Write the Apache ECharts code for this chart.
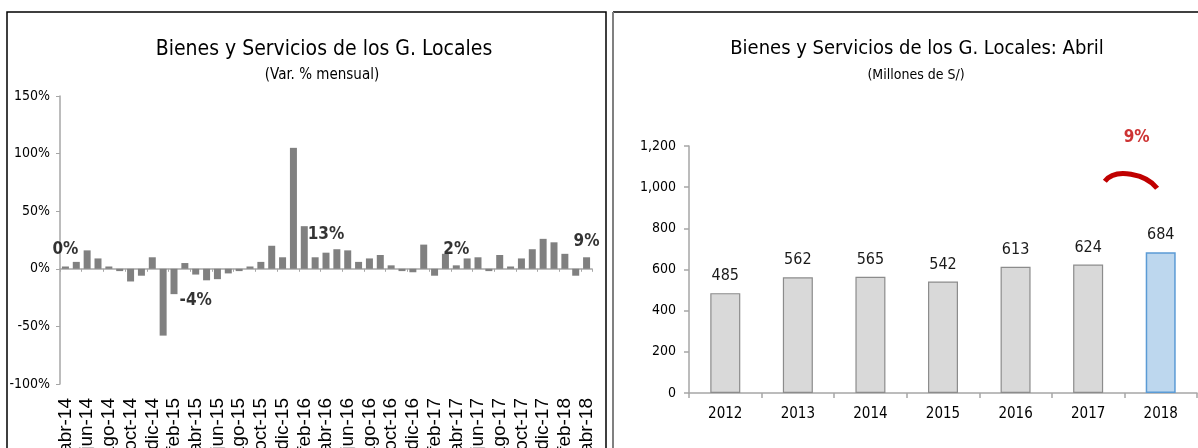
<!DOCTYPE html>
<html>
<head>
<meta charset="utf-8">
<script src="https://cdn.jsdelivr.net/npm/echarts@6/dist/echarts.min.js"></script>
<style>html,body{margin:0;padding:0;background:#fff;}#c{width:1198px;height:448px;}</style>
</head>
<body>
<div id="c"></div>
<script>
// ---- data ----
const months = ['abr-14','may-14','jun-14','jul-14','ago-14','sep-14','oct-14','nov-14','dic-14',
  'ene-15','feb-15','mar-15','abr-15','may-15','jun-15','jul-15','ago-15','sep-15','oct-15','nov-15','dic-15',
  'ene-16','feb-16','mar-16','abr-16','may-16','jun-16','jul-16','ago-16','sep-16','oct-16','nov-16','dic-16',
  'ene-17','feb-17','mar-17','abr-17','may-17','jun-17','jul-17','ago-17','sep-17','oct-17','nov-17','dic-17',
  'ene-18','feb-18','mar-18','abr-18'];
const monthlyVar = [2,6,16,9,2,-2,-11,-6,10,
  -58,-22,5,-5,-10,-9,-4,-2,2,6,20,10,
  105,37,10,14,17,16,6,9,12,3,-2,-3,
  21,-6,13,3,9,10,-2,12,2,9,17,26,
  23,13,-6,10];
const aprilMonths = ['abr-14','abr-15','abr-16','abr-17','abr-18'];
const aprilGrowthLabels = ['0%','-4%','13%','2%','9%'];
const years = ['2012','2013','2014','2015','2016','2017','2018'];
const aprilValues = [485,562,565,542,613,624,684];
const growthLabel = '9%';
const leftTitle = 'Bienes y Servicios de los G. Locales';
const leftSub = '(Var. % mensual)';
const rightTitle = 'Bienes y Servicios de los G. Locales: Abril';
const rightSub = '(Millones de S/)';

// ---- layout / style ----
const NARROW = "'DejaVu Sans Condensed','Liberation Sans',sans-serif";
const REG = "'Liberation Sans',Arial,sans-serif";
const annotY = [17, -27.5, 29.5, 17, 23.6];
const axisGray = '#a6a6a6';

const chart = echarts.init(document.getElementById('c'), null, {renderer:'canvas'});
const option = {
  animation:false,
  backgroundColor:'#fff',
  title:[
    {text:leftTitle, left:319, top:34, textAlign:'center',
     textStyle:{fontFamily:NARROW, fontSize:21, fontWeight:'normal', color:'#000'}},
    {text:leftSub, left:317, top:63, textAlign:'center',
     textStyle:{fontFamily:NARROW, fontSize:15, fontWeight:'normal', color:'#000'}},
    {text:rightTitle, left:912, top:34, textAlign:'center',
     textStyle:{fontFamily:NARROW, fontSize:20, fontWeight:'normal', color:'#000'}},
    {text:rightSub, left:911, top:63, textAlign:'center',
     textStyle:{fontFamily:NARROW, fontSize:14, fontWeight:'normal', color:'#000'}}
  ],
  grid:[
    {left:60, top:96, width:532, height:288, containLabel:false, outerBoundsMode:'none'},
    {left:689, top:146, width:508, height:247, containLabel:false, outerBoundsMode:'none'}
  ],
  xAxis:[
    {type:'category', gridIndex:0, data:months, position:'bottom',
     axisLine:{show:false, onZero:false}, axisTick:{show:false},
     axisLabel:{interval:1, rotate:90, margin:14, fontFamily:REG, fontSize:19, color:'#000', hideOverlap:false}},
    {type:'category', gridIndex:0, data:months, position:'top',
     axisLine:{show:true, onZero:true, lineStyle:{color:axisGray, width:1.5}},
     axisTick:{show:true, inside:true, interval:1, length:3, lineStyle:{color:axisGray}},
     axisLabel:{show:false}},
    {type:'category', gridIndex:1, data:years,
     axisLine:{lineStyle:{color:axisGray, width:1.5}},
     axisTick:{show:true, length:5, lineStyle:{color:axisGray, width:1.5}},
     axisLabel:{margin:14, fontFamily:NARROW, fontSize:15, color:'#000'}}
  ],
  yAxis:[
    {type:'value', gridIndex:0, min:-100, max:150, interval:50,
     axisLine:{show:true, lineStyle:{color:axisGray, width:1.5}},
     axisTick:{show:true, length:4, lineStyle:{color:axisGray}},
     splitLine:{show:false},
     axisLabel:{formatter:'{value}%', margin:10, fontFamily:NARROW, fontSize:14, color:'#000'}},
    {type:'value', gridIndex:1, min:0, max:1200, interval:200,
     axisLine:{show:true, lineStyle:{color:axisGray, width:1.5}},
     axisTick:{show:true, length:5, lineStyle:{color:axisGray, width:1.5}},
     splitLine:{show:false},
     axisLabel:{formatter:v=>v.toLocaleString('en-US'), margin:13, fontFamily:NARROW, fontSize:14, color:'#000'}}
  ],
  series:[
    {type:'bar', xAxisIndex:0, yAxisIndex:0, data:monthlyVar, barWidth:7,
     itemStyle:{color:'#808080'}},
    {type:'scatter', xAxisIndex:0, yAxisIndex:0, symbolSize:1, itemStyle:{color:'rgba(0,0,0,0)'},
     data:aprilMonths.map((m,i)=>[m, annotY[i]]),
     label:{show:true, position:'inside', formatter:p=>aprilGrowthLabels[p.dataIndex],
       fontFamily:NARROW, fontSize:17, fontWeight:'bold', color:'#000'}, z:5},
    {type:'bar', xAxisIndex:2, yAxisIndex:1, barWidth:30,
     data:aprilValues.map((v,i)=> i===aprilValues.length-1 ?
       {value:v, itemStyle:{color:'#bdd7ee', borderColor:'#5b9bd5', borderWidth:1.5}} :
       {value:v, itemStyle:{color:'#d9d9d9', borderColor:'#8c8c8c', borderWidth:1.2}}),
     label:{show:true, position:'top', distance:9, fontFamily:NARROW, fontSize:16, color:'#1a1a1a'}},
    {type:'scatter', xAxisIndex:2, yAxisIndex:1, symbolSize:1, clip:false, itemStyle:{color:'rgba(0,0,0,0)'},
     data:[[years[years.length-1], 1243]],
     label:{show:true, position:'inside', offset:[-24,0], formatter:growthLabel,
       fontFamily:NARROW, fontSize:17, fontWeight:'bold', color:'#c00000'}, z:5}
  ]
};
chart.setOption(option);

// panel frames + growth arc (arc anchored to the data coordinates of 2017/2018)
const p17 = chart.convertToPixel({xAxisIndex:2, yAxisIndex:1}, [years[5], 1000]);
const p18 = chart.convertToPixel({xAxisIndex:2, yAxisIndex:1}, [years[6], 1000]);
const dx = p18[0]-p17[0];
const sx = p17[0]+dx*0.23, ex = p17[0]+dx*0.95;
const sy = p17[1]-6, ey = p17[1]+1;
chart.setOption({
  graphic:[
    {type:'rect', shape:{x:7, y:12, width:599, height:480}, style:{fill:'none', stroke:'#000', lineWidth:1.5}, silent:true},
    {type:'line', shape:{x1:613, y1:12, x2:1198, y2:12}, style:{stroke:'#000', lineWidth:1.5}, silent:true},
    {type:'line', shape:{x1:613, y1:12, x2:613, y2:448}, style:{stroke:'#808080', lineWidth:2}, silent:true},
    {type:'bezierCurve', shape:{x1:sx, y1:sy, cpx1:sx+dx*0.15, cpy1:sy-14, cpx2:ex-dx*0.15, cpy2:ey-14, x2:ex, y2:ey},
     style:{stroke:'#c00000', lineWidth:5, fill:'none', lineCap:'butt'}, silent:true}
  ]
});
</script>
</body>
</html>
